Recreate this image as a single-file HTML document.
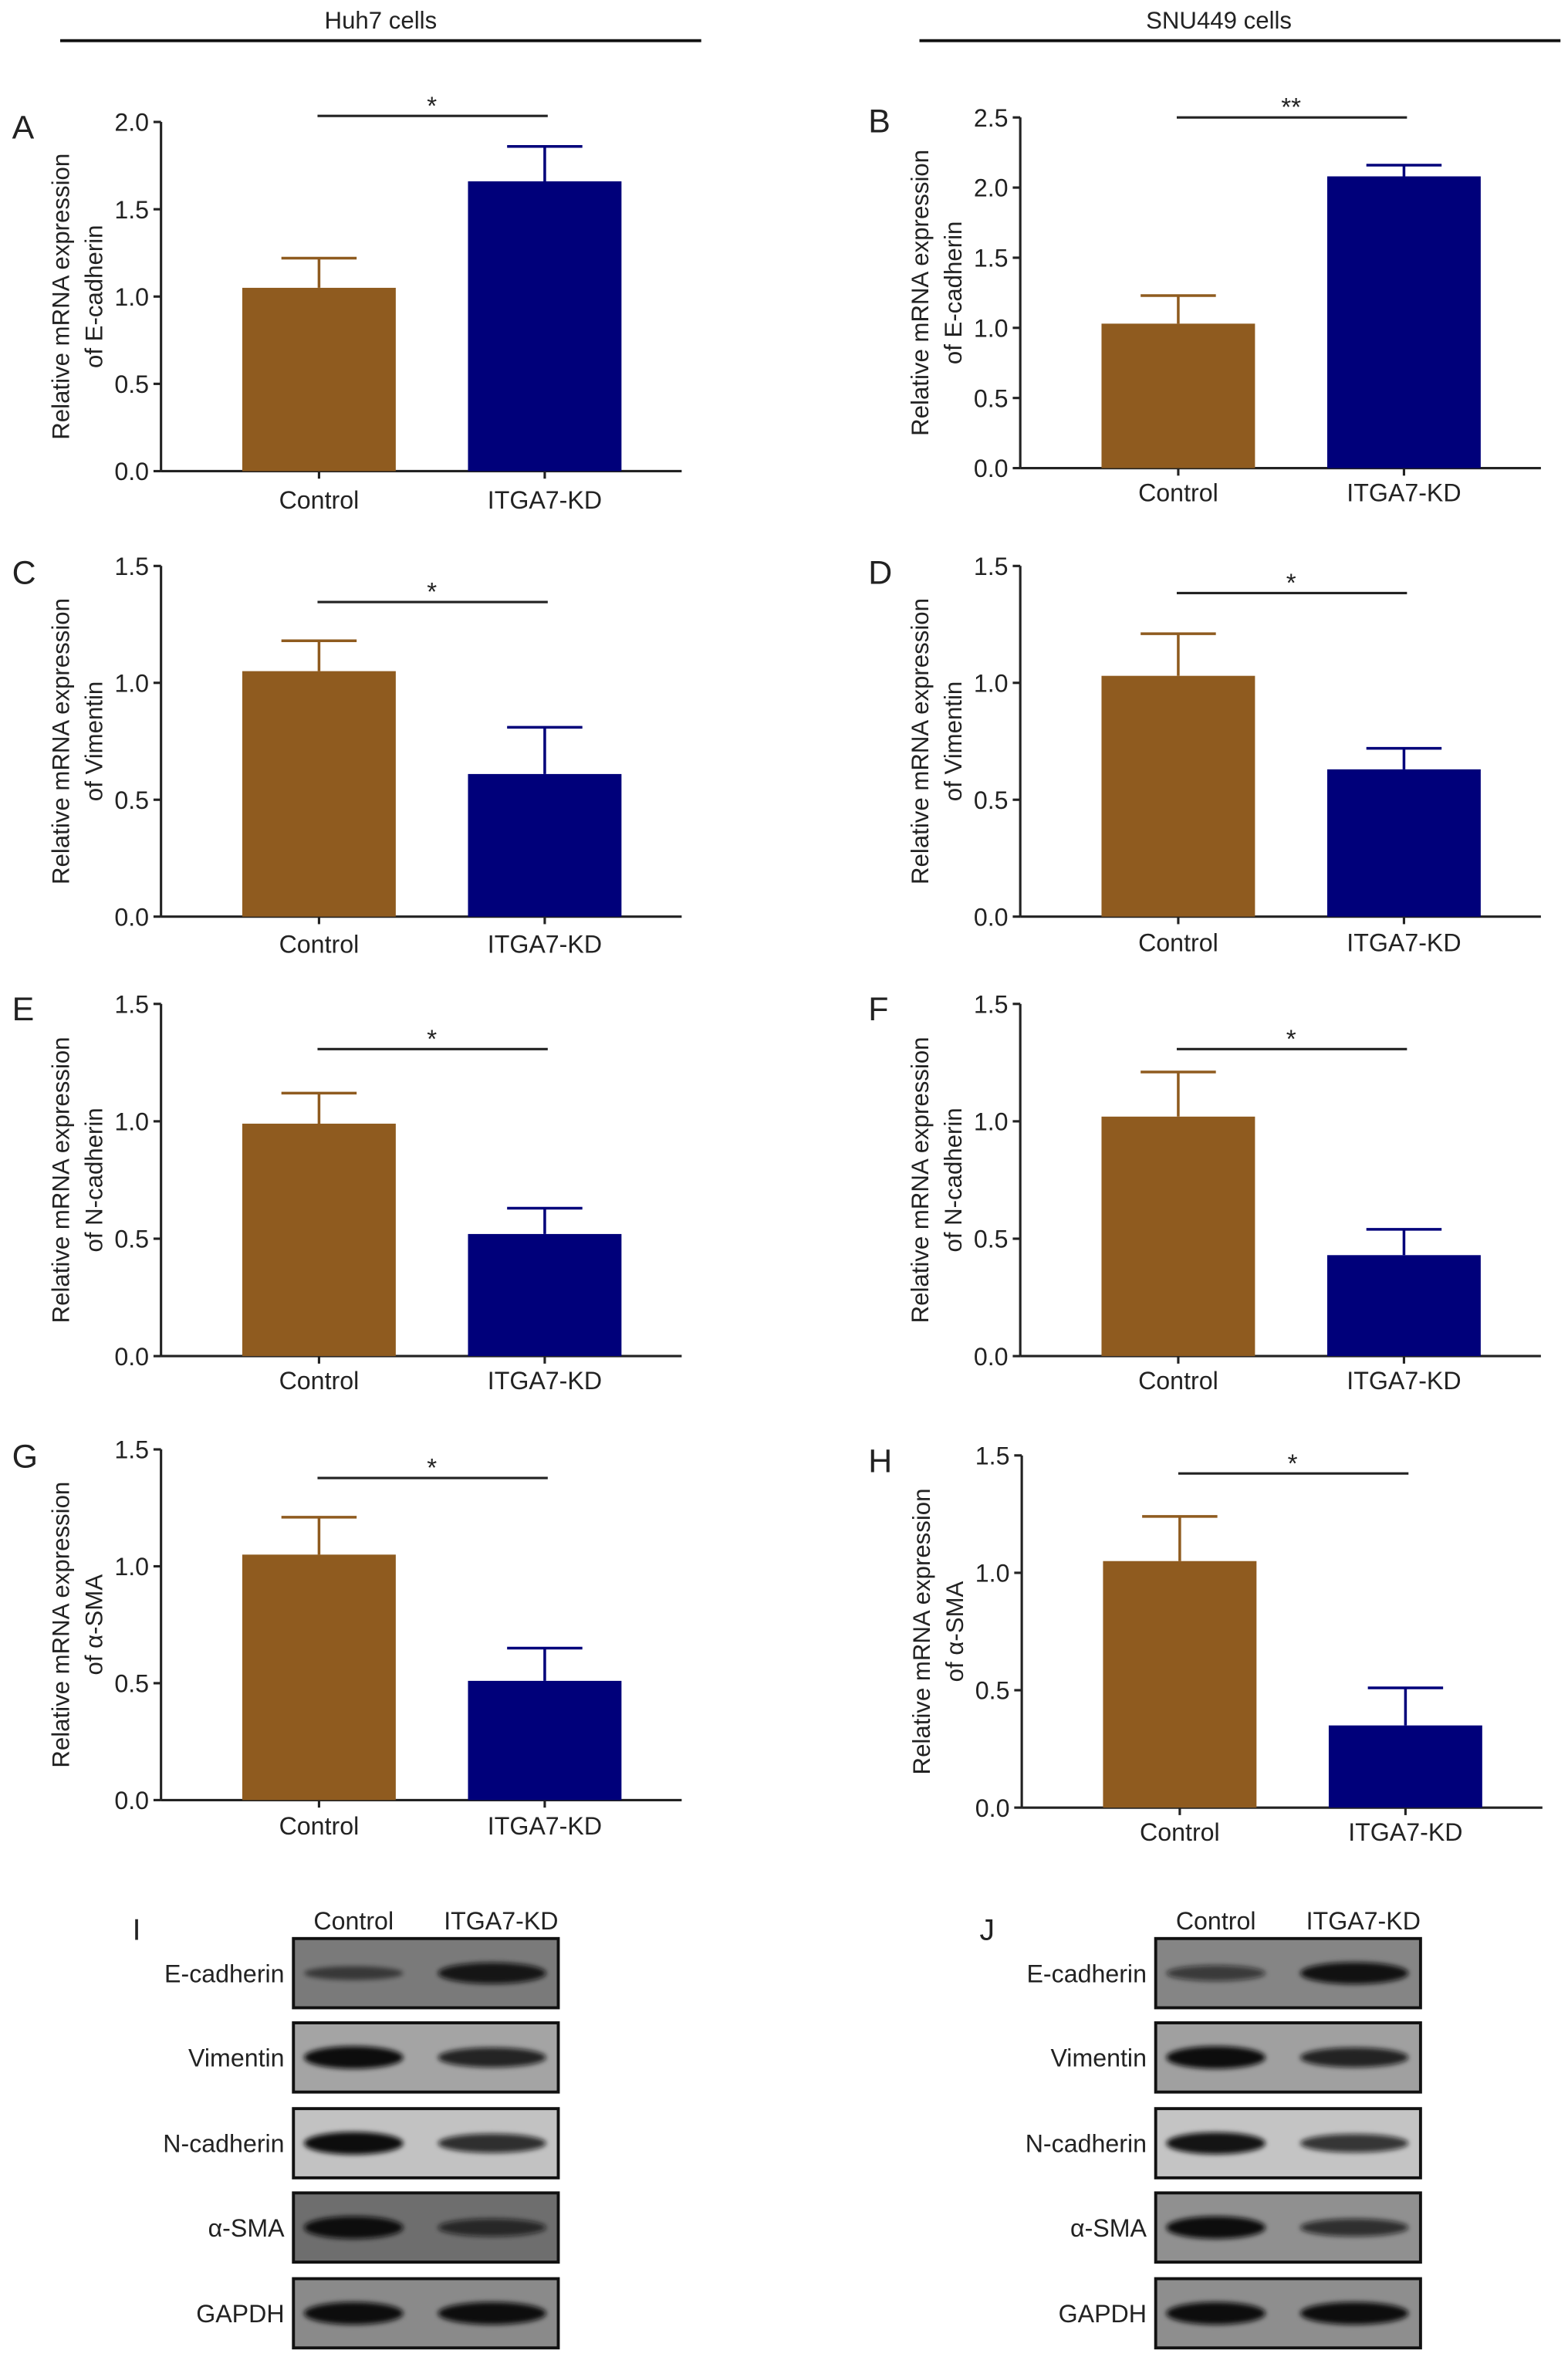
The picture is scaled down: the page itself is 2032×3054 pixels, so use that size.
<!DOCTYPE html>
<html><head><meta charset="utf-8"><style>
html,body{margin:0;padding:0;background:#fff}
svg{display:block}
text{font-family:"Liberation Sans",sans-serif;fill:#222}
</style></head><body>
<svg id="fig" width="2032" height="3054" viewBox="0 0 1042 1566" xmlns="http://www.w3.org/2000/svg">
<defs><filter id="blur" x="-20%" y="-50%" width="140%" height="200%"><feGaussianBlur stdDeviation="1.6"/></filter></defs>
<g>
<text x="253" y="19" font-size="16" text-anchor="middle">Huh7 cells</text>
<line x1="40" y1="27" x2="466" y2="27" stroke="#111" stroke-width="2"/>
</g>
<g>
<text x="810" y="19" font-size="16" text-anchor="middle">SNU449 cells</text>
<line x1="611" y1="27" x2="1037" y2="27" stroke="#111" stroke-width="2"/>
</g>
</svg>
<script>
const panelLetters = ['A','B','C','D','E','F','G','H'];
const markers = ['E-cadherin','E-cadherin','Vimentin','Vimentin','N-cadherin','N-cadherin','\u03b1-SMA','\u03b1-SMA'];
const categories = ['Control','ITGA7-KD'];
const controlMeans = [1.05,1.03,1.05,1.03,0.99,1.02,1.05,1.05];
const controlErrs  = [1.22,1.23,1.18,1.21,1.12,1.21,1.21,1.24];
const kdMeans      = [1.66,2.08,0.61,0.63,0.52,0.43,0.51,0.35];
const kdErrs       = [1.86,2.16,0.81,0.72,0.63,0.54,0.65,0.51];
const yMaxes = [2.0,2.5,1.5,1.5,1.5,1.5,1.5,1.5];
const sigLabels = ['*','**','*','*','*','*','*','*'];
const blotRows = ['E-cadherin','Vimentin','N-cadherin','\u03b1-SMA','GAPDH'];
const blotCtrlI = [0.35,1,1,1,1];
const blotKdI   = [0.9,0.8,0.75,0.65,1];
const blotCtrlJ = [0.5,1,0.95,1,1];
const blotKdJ   = [0.95,0.8,0.7,0.65,1];

const NS='http://www.w3.org/2000/svg';
const svg=document.getElementById('fig');
function mk(tag,attrs,parent){const e=document.createElementNS(NS,tag);for(const k in attrs)e.setAttribute(k,attrs[k]);(parent||svg).appendChild(e);return e;}
function txt(s,attrs,parent){const e=mk('text',attrs,parent);e.textContent=s;return e;}

const layout=[
 {ax:107,top:81,bot:313,lbl:332,sig:77,lx:8,ly:92},
 {ax:678,top:78,bot:311,lbl:327,sig:78,lx:577,ly:88},
 {ax:107,top:376,bot:609,lbl:627,sig:400,lx:8,ly:388},
 {ax:678,top:376,bot:609,lbl:626,sig:394,lx:577,ly:388},
 {ax:107,top:667,bot:901,lbl:917,sig:697,lx:8,ly:678},
 {ax:678,top:667,bot:901,lbl:917,sig:697,lx:577,ly:678},
 {ax:107,top:963,bot:1196,lbl:1213,sig:982,lx:8,ly:975},
 {ax:679,top:967,bot:1201,lbl:1217,sig:979,lx:577,ly:978}
];
const colors=['#8f5b1f','#00007a'];

panelLetters.forEach((L,i)=>{
 const p=layout[i];
 const g=mk('g',{});
 
 
 const y=v=>p.bot-(v/yMaxes[i])*(p.bot-p.top);
 const xc=[p.ax+105,p.ax+255];
 const lt=txt(L,{x:p.lx,y:p.ly,'font-size':22},g);
 
 
 const ya=mk('line',{x1:p.ax,y1:p.top,x2:p.ax,y2:p.bot,stroke:'#222','stroke-width':1.6},g);
 
 
 const xa=mk('line',{x1:p.ax,y1:p.bot,x2:p.ax+346,y2:p.bot,stroke:'#222','stroke-width':1.6},g);
 
 
 for(let v=0;v<=yMaxes[i]+1e-9;v+=0.5){
  mk('line',{x1:p.ax-5,y1:y(v),x2:p.ax,y2:y(v),stroke:'#222','stroke-width':1.6},g);
  const t=txt(v.toFixed(1),{x:p.ax-8,y:y(v)+6,'font-size':16.5,'text-anchor':'end'},g);
  
  
 }
 const tt=mk('text',{transform:`translate(${p.ax-61},${(p.top+p.bot)/2}) rotate(-90)`,'font-size':16,'text-anchor':'middle'},g);
 
 
 const s1=mk('tspan',{x:0,dy:0},tt);s1.textContent='Relative mRNA expression';
 const s2=mk('tspan',{x:0,dy:22},tt);s2.textContent='of '+markers[i];
 const means=[controlMeans[i],kdMeans[i]],errs=[controlErrs[i],kdErrs[i]];
 [0,1].forEach(j=>{
  const b=mk('rect',{x:xc[j]-51,y:y(means[j]),width:102,height:p.bot-y(means[j]),fill:colors[j]},g);
  
  
  const e=mk('path',{d:`M${xc[j]},${y(means[j])}V${y(errs[j])}M${xc[j]-25},${y(errs[j])}H${xc[j]+25}`,stroke:colors[j],'stroke-width':1.8,fill:'none'},g);
  
  
  mk('line',{x1:xc[j],y1:p.bot,x2:xc[j],y2:p.bot+5,stroke:'#222','stroke-width':1.6},g);
  const xl=txt(categories[j],{x:xc[j],y:p.lbl+6,'font-size':16.5,'text-anchor':'middle'},g);
  
  
 });
 const sl=mk('line',{x1:xc[0]-1,y1:p.sig,x2:xc[1]+2,y2:p.sig,stroke:'#222','stroke-width':1.6},g);
 
 
 const st=txt(sigLabels[i],{x:(xc[0]+xc[1])/2,y:p.sig-1,'font-size':17,'text-anchor':'middle'},g);
 
 
});

const blotPanels=[{L:'I',bx:195,lx:88,ctrl:blotCtrlI,kd:blotKdI},{L:'J',bx:768,lx:651,ctrl:blotCtrlJ,kd:blotKdJ}];
const rowTops=[1288,1344,1401,1457,1514];
const bgs=[['#7a7a7a','#a4a4a4','#c2c2c2','#6e6e6e','#8a8a8a'],['#858585','#a0a0a0','#c4c4c4','#909090','#8e8e8e']];
blotPanels.forEach((bp,k)=>{
 const g=mk('g',{});
 
 
 const l=txt(bp.L,{x:bp.lx,y:1289,'font-size':20},g);
 
 
 const h1=txt('Control',{x:bp.bx+40,y:1282,'font-size':16.5,'text-anchor':'middle'},g);
 
 
 const h2=txt('ITGA7-KD',{x:bp.bx+138,y:1282,'font-size':16.5,'text-anchor':'middle'},g);
 
 
 blotRows.forEach((r,i)=>{
  const t=rowTops[i];
  const rl=txt(r,{x:bp.bx-6,y:t+29,'font-size':16.5,'text-anchor':'end'},g);
  
  
  const bx=mk('rect',{x:bp.bx,y:t,width:176,height:46,fill:bgs[k][i],stroke:'#111','stroke-width':2},g);
  
  
  [[bp.ctrl[i],bp.bx+40,33],[bp.kd[i],bp.bx+132,36]].forEach(([v,cx,rx])=>{
   const ry=3+4.5*v;
   const b=mk('ellipse',{cx:cx,cy:t+23,rx:rx,ry:ry,fill:'#0a0a0a','fill-opacity':0.3+0.7*v,filter:'url(#blur)'},g);
   
   
  });
 });
});
</script>
</body></html>
